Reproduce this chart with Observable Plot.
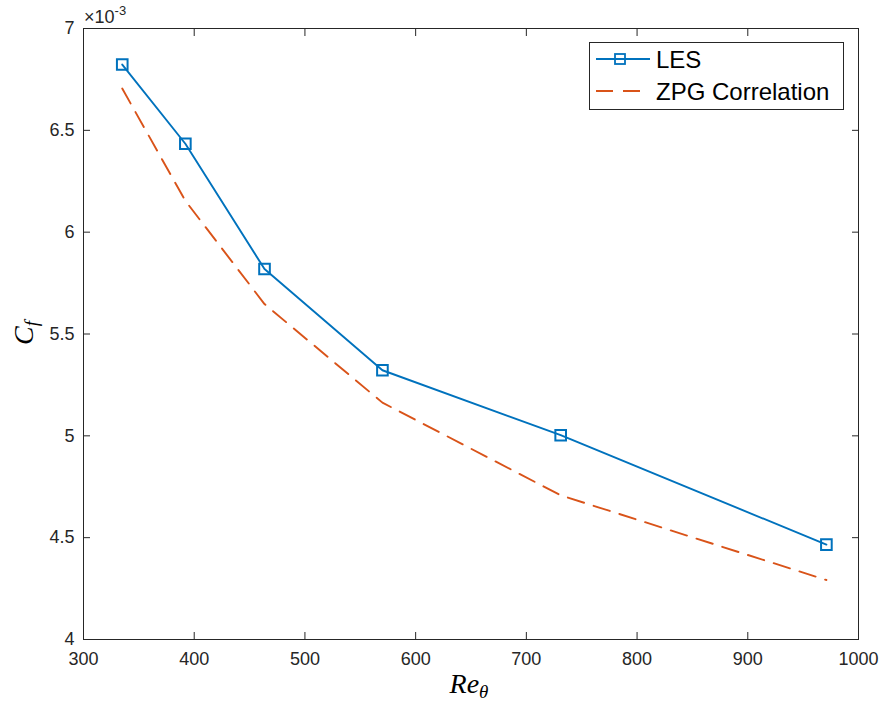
<!DOCTYPE html>
<html>
<head>
<meta charset="utf-8">
<script src="https://cdn.jsdelivr.net/npm/d3@7"></script>
<script src="https://cdn.jsdelivr.net/npm/@observablehq/plot@0.6"></script>
<style>
  html, body { margin: 0; padding: 0; background: white; }
</style>
</head>
<body>
<div id="chart"></div>
<script>
// Data (Cf in units of 1e-3)
const reTheta = [335, 392, 463.5, 570, 731, 971];
const cfLES   = [6.823, 6.434, 5.819, 5.322, 5.003, 4.466];
const cfZPG   = [6.705, 6.154, 5.647, 5.163, 4.708, 4.292];
const xTicks = [300, 400, 500, 600, 700, 800, 900, 1000];
const yTicks = [4, 4.5, 5, 5.5, 6, 6.5, 7];
const seriesNames = ["LES", "ZPG Correlation"];

const data = reTheta.map((x, i) => ({x, les: cfLES[i], zpg: cfZPG[i]}));

const blue = "#0072BD", orange = "#D95319", axisColor = "#262626";

const chart = Plot.plot({
  width: 879, height: 702,
  marginLeft: 83, marginRight: 21, marginTop: 28, marginBottom: 63,
  x: {domain: [300, 1000]},
  y: {domain: [4, 7]},
  style: {fontFamily: "'Liberation Sans', Arial, sans-serif", fontSize: "18px", color: axisColor, background: "white"},
  marks: [
    Plot.axisX({ticks: xTicks, tickSize: -7, tickPadding: 20, label: null, tickFormat: d => String(d)}),
    Plot.axisX({anchor: "top", ticks: xTicks, tickSize: -7, tickFormat: () => "", label: null}),
    Plot.axisY({ticks: yTicks, tickSize: -7, tickPadding: 16, label: null, tickFormat: d => String(d)}),
    Plot.axisY({anchor: "right", ticks: yTicks, tickSize: -7, tickFormat: () => "", label: null}),
    Plot.frame({stroke: axisColor, strokeWidth: 1}),
    Plot.line(data, {x: "x", y: "zpg", stroke: orange, strokeWidth: 1.9, strokeDasharray: "17,10"}),
    Plot.line(data, {x: "x", y: "les", stroke: blue, strokeWidth: 1.9}),
    Plot.dot(data, {x: "x", y: "les", symbol: "square", r: 6, stroke: blue, strokeWidth: 2, fill: "none"})
  ]
});

document.getElementById("chart").appendChild(chart);
const svg = d3.select(chart);

// exponent
const ex = svg.append("text").attr("x", 84).attr("y", 22.5).attr("text-anchor", "start")
  .attr("font-family", "'Liberation Sans', Arial, sans-serif").attr("font-size", 18).attr("fill", axisColor);
ex.append("tspan").text("\u00d710");
ex.append("tspan").attr("font-size", 13).attr("dy", -8).text("-3");

// y label
const yl = svg.append("text").attr("transform", "translate(33,333) rotate(-90)")
  .attr("text-anchor", "middle").attr("font-family", "'Liberation Serif', 'DejaVu Serif', serif")
  .attr("font-style", "italic").attr("font-size", 28).attr("fill", "#000");
yl.append("tspan").text("C");
yl.append("tspan").attr("font-size", 19).attr("dy", 5).text("f");

// x label
const xl = svg.append("text").attr("x", 469).attr("y", 693)
  .attr("text-anchor", "middle").attr("font-family", "'Liberation Serif', 'DejaVu Serif', serif")
  .attr("font-style", "italic").attr("font-size", 28).attr("fill", "#000");
xl.append("tspan").text("Re");
xl.append("tspan").attr("font-size", 19).attr("dy", 5).text("\u03b8");

// legend
const lg = svg.append("g");
lg.append("rect").attr("x", 589.5).attr("y", 42.5).attr("width", 254).attr("height", 67)
  .attr("fill", "white").attr("stroke", axisColor).attr("stroke-width", 1);
lg.append("line").attr("x1", 596).attr("x2", 650).attr("y1", 59).attr("y2", 59)
  .attr("stroke", blue).attr("stroke-width", 1.9);
lg.append("rect").attr("x", 615).attr("y", 54).attr("width", 10).attr("height", 10)
  .attr("fill", "none").attr("stroke", blue).attr("stroke-width", 1.8);
lg.append("line").attr("x1", 596).attr("x2", 650).attr("y1", 91).attr("y2", 91)
  .attr("stroke", orange).attr("stroke-width", 1.9).attr("stroke-dasharray", "17,10");
[[seriesNames[0], 67.5], [seriesNames[1], 99.5]].forEach(([t, y]) => {
  lg.append("text").attr("x", 656).attr("y", y).attr("text-anchor", "start").text(t)
    .attr("font-family", "'Liberation Sans', Arial, sans-serif").attr("font-size", 24).attr("fill", "#000");
});
</script>
</body>
</html>
